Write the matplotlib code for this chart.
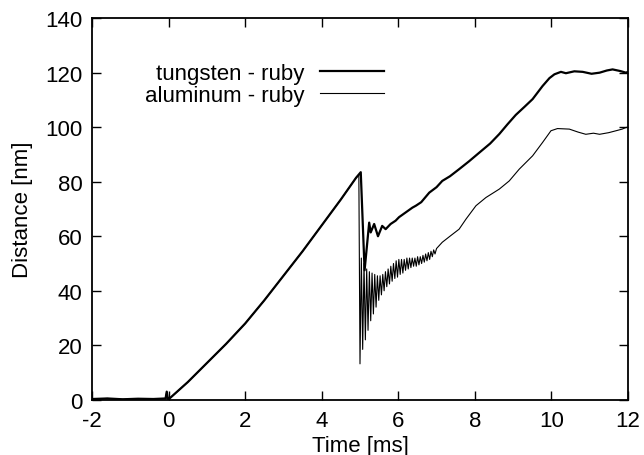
import numpy as np
import matplotlib
matplotlib.use("Agg")
import matplotlib.pyplot as plt

plt.rcParams['font.family'] = ['Liberation Sans', 'DejaVu Sans']
plt.rcParams['axes.unicode_minus'] = False

# tungsten - ruby (time in ms, distance in nm)
t_w = [-2.0, -1.6, -1.2, -0.8, -0.4, -0.08, -0.05, -0.02, 0.0, 0.5, 1.0, 1.5, 2.0, 2.5,
       3.0, 3.5, 4.0, 4.5, 4.9, 5.02, 5.12, 5.24, 5.28, 5.37, 5.47, 5.58, 5.67,
       5.8, 5.93, 6.02, 6.19, 6.37, 6.46, 6.6, 6.81, 7.0, 7.15, 7.35, 7.59,
       7.85, 8.12, 8.4, 8.64, 8.85, 9.07, 9.3, 9.51, 9.77, 9.95, 10.08, 10.25,
       10.38, 10.6, 10.82, 11.05, 11.26, 11.45, 11.6, 11.8, 11.95, 12.0]
d_w = [0.3, 0.5, 0.2, 0.4, 0.3, 0.5, 3.0, 0.4, 0.2, 6.5, 13.5, 20.5, 28.0, 36.5,
       45.5, 54.5, 64.0, 73.5, 81.5, 83.5, 47.5, 65.0, 61.4, 64.5, 60.0, 63.8, 62.6,
       64.5, 65.7, 67.0, 68.7, 70.5, 71.2, 72.5, 76.0, 78.0, 80.3, 82.0, 84.6,
       87.5, 90.7, 94.0, 97.5, 101.0, 104.5, 107.5, 110.3, 115.1, 118.0, 119.4, 120.3,
       119.8, 120.5, 120.3, 119.6, 120.0, 120.8, 121.2, 120.6, 120.0, 120.3]

# aluminum - ruby, including the ringing after the drop
t_a = [-2.0, -1.6, -1.2, -0.8, -0.4, -0.08, -0.05, -0.02, 0.0, 0.5, 1.0, 1.5, 2.0, 2.5,
       3.0, 3.5, 4.0, 4.5, 4.9, 4.97, 5.0, 5.035, 5.07, 5.105, 5.14, 5.175, 5.21,
       5.245, 5.28, 5.315, 5.35, 5.385, 5.42, 5.455, 5.49, 5.525, 5.56, 5.595,
       5.63, 5.665, 5.70, 5.735, 5.77, 5.805, 5.84, 5.875, 5.91, 5.945, 5.98,
       6.015, 6.05, 6.085, 6.12, 6.155, 6.19, 6.225, 6.26, 6.295, 6.33, 6.365,
       6.40, 6.435, 6.47, 6.505, 6.54, 6.575, 6.61, 6.645, 6.68, 6.715, 6.75,
       6.785, 6.82, 6.855, 6.89, 6.925, 6.96, 7.0, 7.15, 7.35, 7.59, 7.77, 8.03,
       8.29, 8.64, 8.9, 9.16, 9.51, 9.77, 9.99, 10.16, 10.47, 10.7, 10.9, 11.1,
       11.26, 11.5, 11.69, 11.85, 11.95, 12.0]
d_a = [0.3, 0.5, 0.2, 0.4, 0.3, 0.5, 3.0, 0.4, 0.2, 6.5, 13.5, 20.5, 28.0, 36.5,
       45.5, 54.5, 64.0, 73.5, 81.5, 82.5, 13.2, 52.0, 18.5, 50.0, 22.0, 48.0, 25.5,
       47.0, 29.0, 46.5, 31.5, 46.0, 34.0, 45.5, 36.5, 45.5, 38.5, 46.0,
       40.0, 47.0, 41.5, 48.0, 42.5, 49.0, 43.5, 50.0, 44.5, 51.0, 45.0,
       51.5, 46.0, 51.5, 46.5, 51.5, 47.5, 52.0, 48.0, 52.0, 48.5, 52.0,
       49.0, 52.0, 49.0, 52.5, 49.5, 52.5, 50.0, 53.0, 50.5, 53.5, 51.0,
       54.0, 51.5, 54.5, 52.5, 55.0, 53.5, 55.5, 57.8, 60.0, 62.6, 66.3, 71.2,
       74.2, 77.3, 80.3, 84.6, 89.5, 94.4, 98.7, 99.5, 99.3, 98.2, 97.4, 97.8,
       97.4, 98.0, 98.7, 99.3, 99.9, 100.0]

fig = plt.figure(figsize=(6.44, 4.56), dpi=100)
ax = fig.add_axes([0.143, 0.121, 0.832, 0.837])

ax.plot(t_w, d_w, color='black', lw=1.6, label='tungsten - ruby')
ax.plot(t_a, d_a, color='black', lw=0.8, label='aluminum - ruby')

ax.set_xlim(-2, 12)
ax.set_ylim(0, 140)
ax.set_xticks(np.arange(-2, 13, 2))
ax.set_yticks(np.arange(0, 141, 20))
ax.tick_params(direction='in', top=True, right=True, length=6.5, width=1,
               labelsize=16, pad=7)
for s in ax.spines.values():
    s.set_linewidth(1.3)

ax.set_xlabel('Time [ms]', size=16, labelpad=3)
ax.set_ylabel('Distance [nm]', size=16, labelpad=9)

ax.legend(loc='upper right', bbox_to_anchor=(0.597, 0.86), bbox_transform=fig.transFigure,
          frameon=False, markerfirst=False, fontsize=16, handlelength=2.9,
          handletextpad=0.7, labelspacing=0.05, borderpad=0, borderaxespad=0)

fig.savefig('out.png', dpi=100)
